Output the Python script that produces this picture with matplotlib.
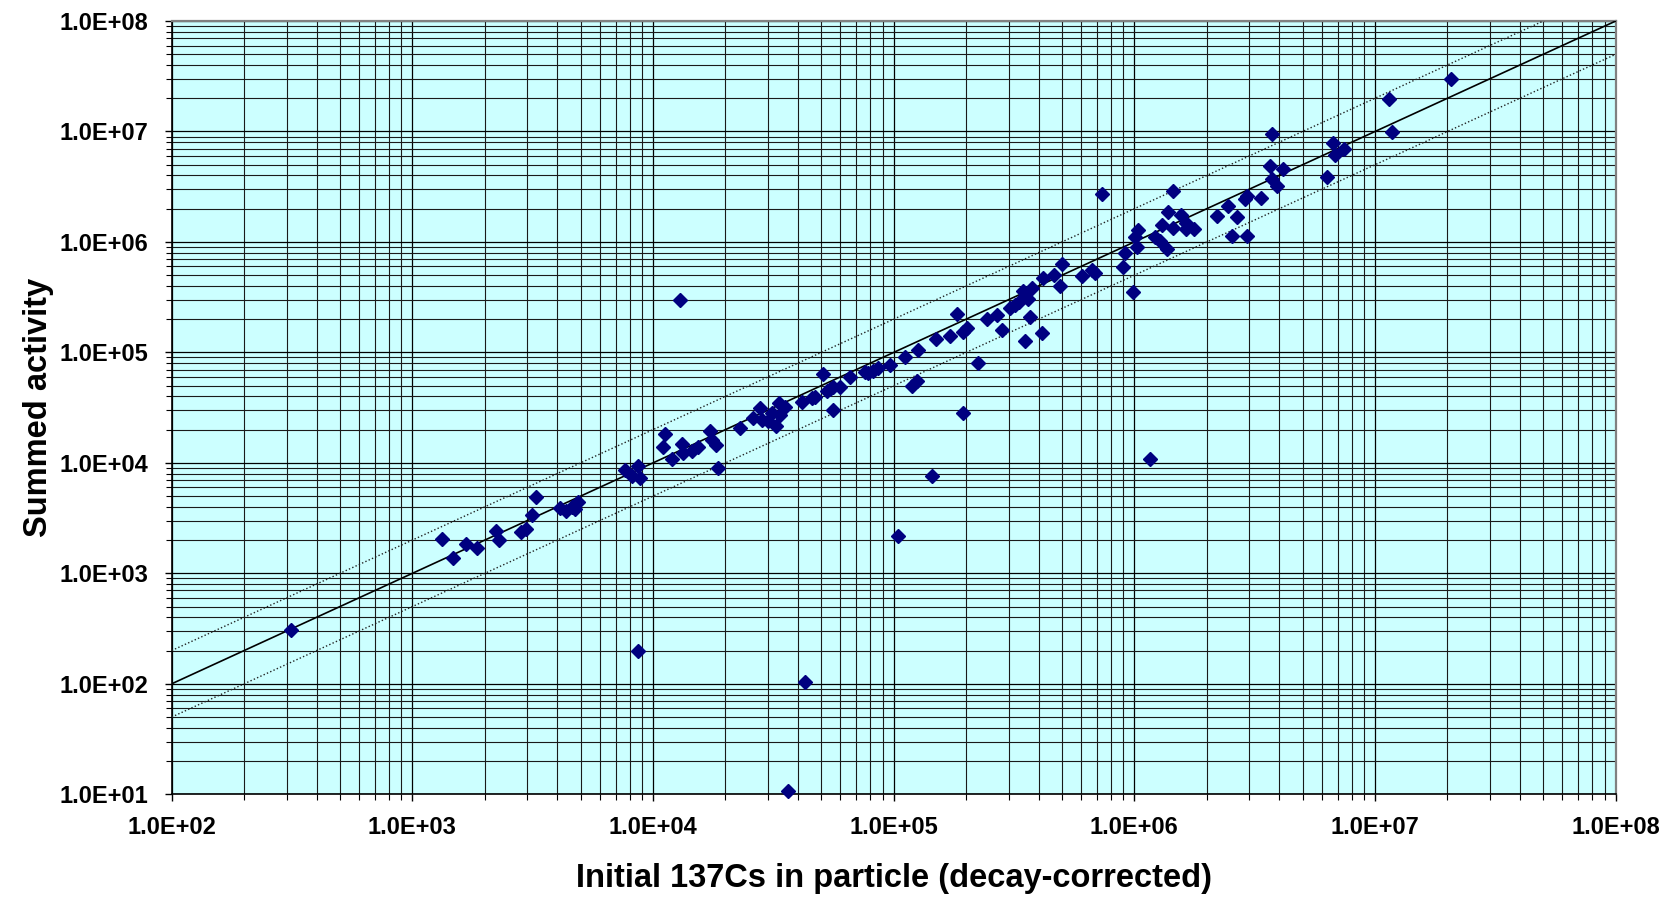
import matplotlib
matplotlib.use("Agg")
import matplotlib.pyplot as plt
from matplotlib.ticker import LogLocator, FuncFormatter, NullFormatter
import numpy as np

plt.rcParams['font.family'] = ['Liberation Sans', 'DejaVu Sans']

# Initial 137Cs in particle (decay-corrected)
initial_cs = [
    313, 1331, 1471, 1675, 1856, 2226, 2291, 2828, 2956, 3133, 3265,
    4106, 4349, 4592, 4742, 4890, 7645, 8200, 8690, 8830, 8690,
    11040, 11220, 11950, 13000, 13150, 13370, 14480, 15420, 17250, 17530,
    18270, 18680, 22980, 25940, 27820, 28270, 30100, 31120, 32400, 33470,
    33690, 35300, 36500, 41480, 43000, 45650, 47130, 50700, 52680, 54300,
    56130, 56130, 59860, 65800, 76000, 78400, 82300, 86300, 96500, 104500,
    111400, 118800, 124600, 126500, 143900, 150000, 171500, 182800, 193500,
    194500, 200800, 224700, 243500, 267700, 281000, 304300, 319000, 332700,
    345600, 351000, 362000, 368300, 374400, 412000, 418400, 463400, 490900,
    501400, 603500, 664600, 685900, 731000, 899000, 914000, 989700,
    1006000, 1028000, 1038000, 1156000, 1218000, 1278000, 1298000, 1361000,
    1375000, 1451000, 1443000, 1563000, 1639000, 1639000, 1770000, 2198000,
    2456000, 2535000, 2660000, 2882000, 2930000, 2940000, 3350000, 3660000,
    3720000, 3720000, 3930000, 4160000, 6300000, 6670000, 6820000, 7450000,
    11460000, 11800000, 20700000,
]

# Summed activity
summed_activity = [
    308, 2042, 1374, 1849, 1690, 2425, 2010, 2360, 2514, 3383, 4895,
    3890, 3680, 4027, 3836, 4467, 8645, 7620, 9400, 7280, 198,
    14050, 18290, 10900, 297000, 14860, 12240, 12690, 14060, 19600, 16150,
    14550, 8950, 20850, 25360, 31240, 24480, 24140, 28180, 21630, 34700,
    27180, 32360, 10.6, 35890, 103, 38470, 39830, 63850, 45100, 46500,
    30200, 48400, 49000, 60400, 67000, 64800, 68400, 71900, 77100, 2170,
    91600, 49740, 55600, 105400, 7620, 131600, 140900, 223000, 28500,
    154200, 165600, 80900, 199600, 218200, 160000, 251200, 269000, 288600,
    362300, 127000, 302800, 210800, 380900, 151000, 469700, 502000, 400000,
    632000, 492000, 558000, 527500, 2718000, 590000, 800000, 354900,
    1117000, 906000, 1285000, 10780, 1117000, 1028000, 1425000, 859000,
    1857000, 2910000, 1346000, 1754000, 1496000, 1303000, 1303000, 1719000,
    2117000, 1133000, 1670000, 2432000, 1133000, 2600000, 2480000, 4870000,
    9490000, 3690000, 3210000, 4550000, 3900000, 7920000, 6120000, 6900000,
    19550000, 9960000, 29800000,
]

# Reference lines: 1:1, 2:1 and 1:2
line_x = [1e2, 1e8]
ratio_solid = 1.0
ratio_dotted = [2.0, 0.5]

x_ticks = [1e2, 1e3, 1e4, 1e5, 1e6, 1e7, 1e8]
y_ticks = [1e1, 1e2, 1e3, 1e4, 1e5, 1e6, 1e7, 1e8]

x_label = "Initial 137Cs in particle (decay-corrected)"
y_label = "Summed activity"

fig = plt.figure(figsize=(16.75, 8.99), dpi=100)
ax = fig.add_axes([0.1025, 0.1165, 0.9646 - 0.1025, 0.9766 - 0.1165])
ax.set_facecolor('#CCFFFF')
ax.set_xscale('log')
ax.set_yscale('log')
ax.set_xlim(1e2, 1e8)
ax.set_ylim(1e1, 1e8)

ax.xaxis.set_major_locator(LogLocator(base=10, numticks=20))
ax.yaxis.set_major_locator(LogLocator(base=10, numticks=20))
ax.xaxis.set_minor_locator(LogLocator(base=10, subs=np.arange(2, 10), numticks=20))
ax.yaxis.set_minor_locator(LogLocator(base=10, subs=np.arange(2, 10), numticks=20))
ax.set_xticks(x_ticks)
ax.set_yticks(y_ticks)
fmt = FuncFormatter(lambda v, p: "%.1E" % v)
ax.xaxis.set_major_formatter(fmt)
ax.yaxis.set_major_formatter(fmt)
ax.xaxis.set_minor_formatter(NullFormatter())
ax.yaxis.set_minor_formatter(NullFormatter())

ax.set_axisbelow(True)
ax.grid(which='major', color='#000000', lw=0.9)
ax.grid(which='minor', color='#1a1a1a', lw=0.8)

lx = np.array(line_x)
ax.plot(lx, lx * ratio_solid, color='black', lw=1.2, zorder=3)
for r in ratio_dotted:
    ax.plot(lx, lx * r, color='#222222', lw=1.0, ls=(0, (1, 1.6)), zorder=3)

ax.plot(initial_cs, summed_activity, ls='none', marker='D', ms=6.9,
        color='#000080', mec='#000080', zorder=4, clip_on=False)

for s in ['top', 'right']:
    ax.spines[s].set_color('#808080')
    ax.spines[s].set_linewidth(1.6)
for s in ['left', 'bottom']:
    ax.spines[s].set_color('#000000')
    ax.spines[s].set_linewidth(1.2)

ax.tick_params(which='major', direction='out', length=5, width=1.0, color='black')
ax.tick_params(which='minor', direction='out', length=4, width=0.8, color='black')
ax.tick_params(axis='x', which='major', pad=11, labelsize=17)
ax.tick_params(axis='y', which='major', pad=12, labelsize=17)
for lab in ax.get_xticklabels() + ax.get_yticklabels():
    lab.set_fontweight('bold')

ax.set_xlabel(x_label, fontsize=23.5, fontweight='bold', labelpad=17)
ax.set_ylabel(y_label, fontsize=23.5, fontweight='bold', labelpad=4)

fig.savefig('out.png', dpi=100, facecolor='white')
